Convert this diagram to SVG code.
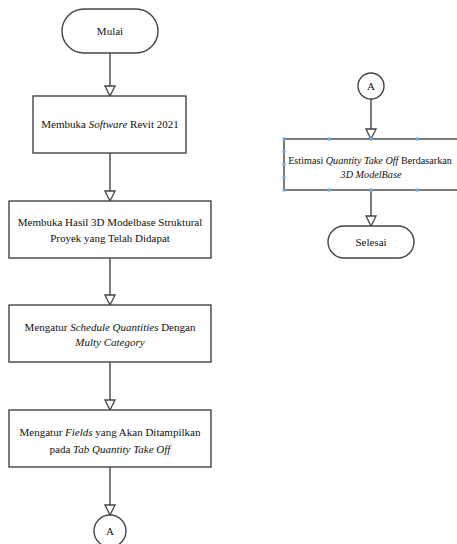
<svg xmlns="http://www.w3.org/2000/svg" width="457" height="544" viewBox="0 0 457 544">
<style>
.s{fill:#fff;stroke:#444;stroke-width:1.4}
.c{fill:none;stroke:#444;stroke-width:1.4}
text{font-family:'Liberation Serif','DejaVu Serif',serif;font-size:11px;fill:#111;text-anchor:middle}
.i{font-style:italic}
.sm{font-size:10.2px}
.h{fill:#5ab0e6;stroke:none}
</style>
<defs>
<marker id="a" markerWidth="12" markerHeight="12" refX="11" refY="6" orient="auto" markerUnits="userSpaceOnUse" viewBox="0 0 12 12">
<path d="M1,1 L11,6 L1,11 Z" fill="#fff" stroke="#444" stroke-width="1.3"/>
</marker>
</defs>
<rect width="457" height="544" fill="#fff"/>
<g id="connectors">
<line class="c" x1="110" y1="53" x2="110" y2="96" marker-end="url(#a)"/>
<line class="c" x1="110" y1="153" x2="110" y2="201" marker-end="url(#a)"/>
<line class="c" x1="110" y1="258" x2="110" y2="305" marker-end="url(#a)"/>
<line class="c" x1="110" y1="362" x2="110" y2="410" marker-end="url(#a)"/>
<line class="c" x1="110" y1="467" x2="110" y2="515" marker-end="url(#a)"/>
<line class="c" x1="371" y1="99" x2="371" y2="139" marker-end="url(#a)"/>
<line class="c" x1="371" y1="190" x2="371" y2="226" marker-end="url(#a)"/>
</g>
<g id="mulai">
<rect class="s" x="62" y="9" width="96" height="44" rx="22" ry="22"/>
<text x="110" y="35">Mulai</text>
</g>
<g id="step1">
<rect class="s" x="33" y="96" width="153" height="57"/>
<text x="110" y="128">Membuka <tspan class="i">Software</tspan> Revit 2021</text>
</g>
<g id="step2">
<rect class="s" x="9" y="201" width="202" height="57"/>
<text x="110" y="226">Membuka Hasil 3D Modelbase Struktural</text>
<text x="110" y="242">Proyek yang Telah Didapat</text>
</g>
<g id="step3">
<rect class="s" x="9" y="305" width="202" height="57"/>
<text x="110" y="331">Mengatur <tspan class="i">Schedule Quantities</tspan> Dengan</text>
<text x="110" y="346" class="i">Multy Category</text>
</g>
<g id="step4">
<rect class="s" x="9" y="410" width="202" height="57"/>
<text x="110" y="436">Mengatur <tspan class="i">Fields</tspan> yang Akan Ditampilkan</text>
<text x="110" y="453">pada <tspan class="i">Tab Quantity Take Off</tspan></text>
</g>
<g id="connectorA1">
<circle class="s" cx="110" cy="531" r="16"/>
<text x="110" y="535">A</text>
</g>
<g id="connectorA2">
<circle class="s" cx="371" cy="86" r="13"/>
<text x="371" y="90">A</text>
</g>
<g id="step5">
<rect class="s" x="284" y="139" width="174" height="51"/>
<text x="370" y="164" class="sm">Estimasi <tspan class="i">Quantity Take Off</tspan> Berdasarkan</text>
<text x="371" y="178" class="i sm">3D ModelBase</text>
<rect class="h" x="282.5" y="137.5" width="3" height="3"/>
<rect class="h" x="327.5" y="137.5" width="3" height="3"/>
<rect class="h" x="369.5" y="137.5" width="3" height="3"/>
<rect class="h" x="415.5" y="137.5" width="3" height="3"/>
<rect class="h" x="282.5" y="150" width="3" height="3"/>
<rect class="h" x="282.5" y="163" width="3" height="3"/>
<rect class="h" x="282.5" y="176" width="3" height="3"/>
<rect class="h" x="282.5" y="188.5" width="3" height="3"/>
<rect class="h" x="327.5" y="188.5" width="3" height="3"/>
<rect class="h" x="369.5" y="188.5" width="3" height="3"/>
<rect class="h" x="415.5" y="188.5" width="3" height="3"/>
</g>
<g id="selesai">
<rect class="s" x="328" y="226" width="86" height="32" rx="16" ry="16"/>
<text x="371" y="246">Selesai</text>
</g>
</svg>
